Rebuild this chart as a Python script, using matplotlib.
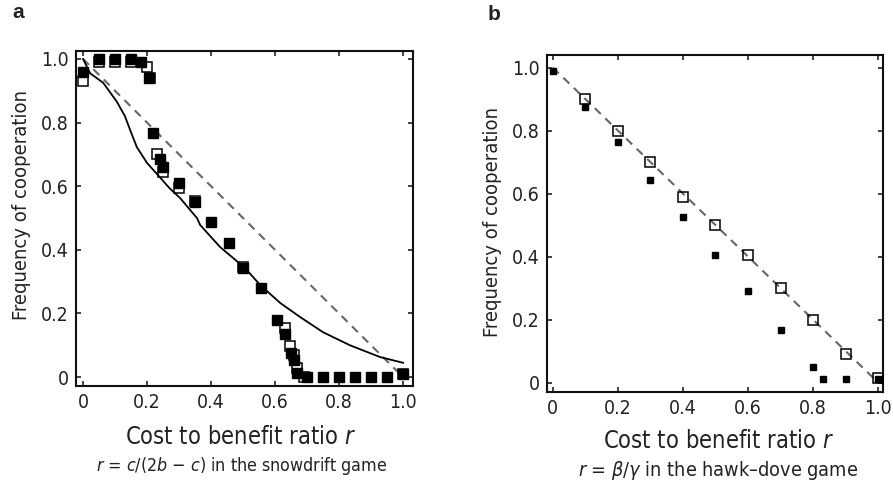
import matplotlib
matplotlib.use('Agg')
import matplotlib.pyplot as plt
import numpy as np

plt.rcParams['font.family'] = ['DejaVu Sans']
plt.rcParams['font.stretch'] = 'condensed'
plt.rcParams['mathtext.fontset'] = 'custom'
plt.rcParams['mathtext.it'] = 'DejaVu Sans:italic:stretch=condensed'
plt.rcParams['mathtext.rm'] = 'DejaVu Sans:stretch=condensed'
plt.rcParams['mathtext.fallback'] = 'cm'

# ---- panel a data (snowdrift game) ----
a_filled_x = [0.0, 0.05, 0.10, 0.15, 0.18, 0.205, 0.22, 0.24, 0.25, 0.30, 0.35, 0.40,
              0.455, 0.50, 0.555, 0.605, 0.63, 0.65, 0.66, 0.67, 0.70, 0.75, 0.80,
              0.85, 0.90, 0.95, 1.0]
a_filled_y = [0.96, 1.0, 1.0, 1.0, 0.99, 0.94, 0.767, 0.685, 0.66, 0.61, 0.55, 0.487,
              0.42, 0.343, 0.28, 0.18, 0.135, 0.075, 0.053, 0.012, 0.0, 0.0, 0.0,
              0.0, 0.0, 0.0, 0.01]
a_open_x = [0.0, 0.05, 0.10, 0.15, 0.20, 0.21, 0.23, 0.25, 0.30, 0.35, 0.50, 0.63,
            0.647, 0.66, 0.67, 0.69, 1.0]
a_open_y = [0.93, 0.99, 0.99, 0.99, 0.975, 0.94, 0.70, 0.645, 0.595, 0.555, 0.345, 0.153,
            0.097, 0.069, 0.03, 0.0, 0.01]
a_curve_x = [0.0, 0.022, 0.063, 0.106, 0.131, 0.147, 0.168, 0.2, 0.234, 0.27, 0.303,
             0.356, 0.366, 0.428, 0.506, 0.553, 0.616, 0.678, 0.75, 0.834, 0.928, 1.0]
a_curve_y = [1.0, 0.955, 0.925, 0.865, 0.82, 0.777, 0.723, 0.673, 0.635, 0.594, 0.563,
             0.50, 0.478, 0.409, 0.343, 0.29, 0.233, 0.189, 0.141, 0.10, 0.063, 0.045]
a_dash_x = [0.0, 1.0]
a_dash_y = [1.0, 0.0]

# ---- panel b data (hawk-dove game) ----
b_filled_x = [0.0, 0.1, 0.2, 0.3, 0.4, 0.5, 0.6, 0.7, 0.8, 0.83, 0.9, 1.0]
b_filled_y = [0.99, 0.875, 0.763, 0.643, 0.527, 0.405, 0.29, 0.167, 0.048, 0.012, 0.01, 0.012]
b_open_x = [0.1, 0.2, 0.3, 0.4, 0.5, 0.6, 0.7, 0.8, 0.9, 1.0]
b_open_y = [0.9, 0.8, 0.7, 0.59, 0.5, 0.405, 0.30, 0.2, 0.09, 0.015]
b_dash_x = [0.0, 1.0]
b_dash_y = [1.0, 0.0]

xticks = [0, 0.2, 0.4, 0.6, 0.8, 1.0]
xtick_labels = ['0', '0.2', '0.4', '0.6', '0.8', '1.0']
yticks = [0, 0.2, 0.4, 0.6, 0.8, 1.0]
ytick_labels = ['0', '0.2', '0.4', '0.6', '0.8', '1.0']

figW, figH = 8.93, 4.86
fig = plt.figure(figsize=(figW, figH), dpi=100)

def px_axes(l, t, r, b):
    return [l / 893, 1 - b / 486, (r - l) / 893, (b - t) / 486]

axA = fig.add_axes(px_axes(76, 51, 413, 386))
axB = fig.add_axes(px_axes(547, 55, 883, 392))

textcol = '#222222'

def style(ax, xlim, ylim):
    ax.set_xlim(*xlim)
    ax.set_ylim(*ylim)
    ax.set_xticks(xticks)
    ax.set_xticklabels(xtick_labels)
    ax.set_yticks(yticks)
    ax.set_yticklabels(ytick_labels)
    ax.tick_params(direction='in', top=True, right=True, length=3.5, width=1.2,
                   labelsize=14, colors=textcol, pad=5)
    for s in ax.spines.values():
        s.set_linewidth(1.5)
        s.set_color('#111111')

# panel a
axA.plot(a_dash_x, a_dash_y, color='#666666', linestyle=(0, (4, 3)), linewidth=1.5, zorder=1)
axA.plot(a_curve_x, a_curve_y, color='black', linewidth=1.3, zorder=2)
axA.plot(a_filled_x, a_filled_y, linestyle='none', marker='s', markersize=6.5,
         markerfacecolor='black', markeredgecolor='black', zorder=3)
axA.plot(a_open_x, a_open_y, linestyle='none', marker='s', markersize=6.5,
         markerfacecolor='none', markeredgecolor='black', markeredgewidth=1.1, zorder=4)
style(axA, (-0.022, 1.031), (-0.028, 1.025))

# panel b
axB.plot(b_dash_x, b_dash_y, color='#666666', linestyle=(0, (4, 3)), linewidth=1.5, zorder=1)
axB.plot(b_filled_x, b_filled_y, linestyle='none', marker='s', markersize=5,
         markerfacecolor='black', markeredgecolor='black', zorder=3)
axB.plot(b_open_x, b_open_y, linestyle='none', marker='s', markersize=6.5,
         markerfacecolor='none', markeredgecolor='black', markeredgewidth=1.1, zorder=4)
style(axB, (-0.018, 1.015), (-0.03, 1.04))

def ftext(x, y, s, **kw):
    fig.text(x / 893, 1 - y / 486, s, color=textcol, **kw)

ftext(22, 205, 'Frequency of cooperation', rotation=90, ha='center', va='center', fontsize=14.5)
ftext(493, 222, 'Frequency of cooperation', rotation=90, ha='center', va='center', fontsize=14.5)
ftext(241, 437, 'Cost to benefit ratio $r$', ha='center', va='center', fontsize=17)
ftext(242, 466, '$r$ = $c$/(2$b$ $-$ $c$) in the snowdrift game', ha='center', va='center', fontsize=12.8)
ftext(719, 441, 'Cost to benefit ratio $r$', ha='center', va='center', fontsize=17)
ftext(718, 470, r'$r$ = $\beta/\gamma$ in the hawk–dove game', ha='center', va='center', fontsize=14.2)

ftext(18, 13, 'a', ha='center', va='center', fontsize=15, fontweight='bold',
      family=['Liberation Sans', 'DejaVu Sans'], fontstretch='normal')
ftext(494, 15, 'b', ha='center', va='center', fontsize=15, fontweight='bold',
      family=['Liberation Sans', 'DejaVu Sans'], fontstretch='normal')

fig.savefig('out.png', dpi=100)
